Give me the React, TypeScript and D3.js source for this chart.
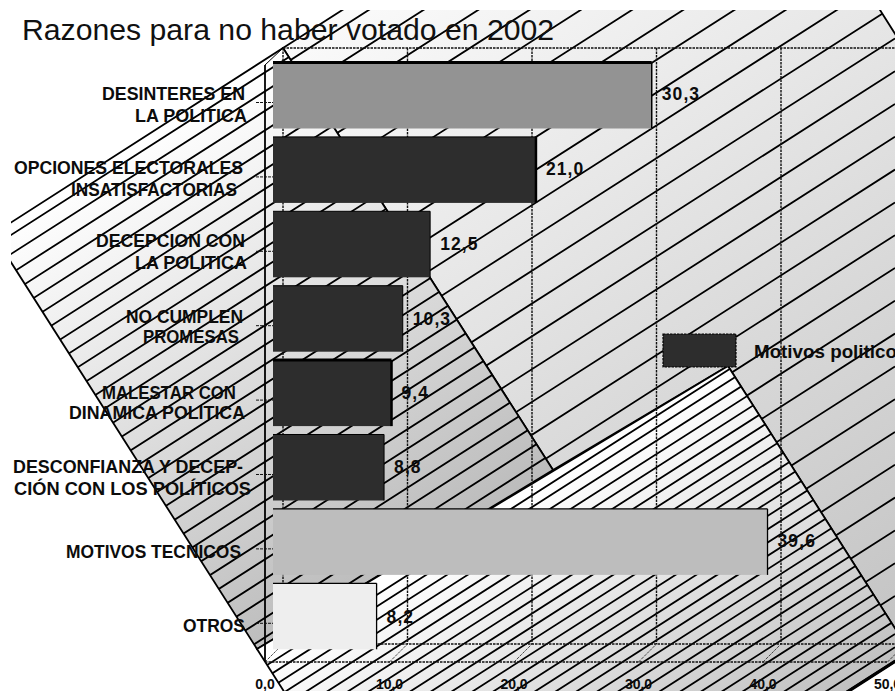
import React from "react";
import * as d3 from "d3";

type Pt = [number, number];

const titleText = "Razones para no haber votado en 2002";
const categories = [
  ["DESINTERES EN", "LA POLITICA"],
  ["OPCIONES ELECTORALES", "INSATISFACTORIAS"],
  ["DECEPCION CON", "LA POLITICA"],
  ["NO CUMPLEN", "PROMESAS"],
  ["MALESTAR CON", "DINAMICA POLITICA"],
  ["DESCONFIANZA Y DECEP-", "CIÓN CON LOS POLÍTICOS"],
  ["MOTIVOS TECNICOS"],
  ["OTROS"],
];
const values = [30.3, 21.0, 12.5, 10.3, 9.4, 8.8, 39.6, 8.2];
const valueLabels = ["30,3", "21,0", "12,5", "10,3", "9,4", "8,8", "39,6", "8,2"];
const barFills = ["#939393", "#2d2d2d", "#2d2d2d", "#2d2d2d", "#2d2d2d", "#2d2d2d", "#bdbdbd", "#eeeeee"];
const xTicks = [0, 10, 20, 30, 40, 50];
const legendLabel = "Motivos politicos";

const W = 895;
const H = 691;
const FONT = "'Liberation Sans', Arial, sans-serif";
const INK = "#0c0c0c";

// Oblique projection of the 3D axis box
const depth = 18;
const floorY = 662;
const backTop = 48;
const backBottom = 644;
const x = d3.scaleLinear().domain([0, 50]).range([265, 887.5]);
const y = d3
  .scaleBand<number>()
  .domain(d3.range(categories.length))
  .range([58.8, 653])
  .paddingInner(0.113)
  .paddingOuter(0.05);
const barStart = 273;
const barShift = 9.5;
const tickDrop = 7;

// Corners of the three tilted backdrop panels
const tilt = -0.64;
const topLeft: Pt = [-7, 234];
const topMid: Pt = [283, 48];
const topRight: Pt = [725, -235];
const farRight: Pt = [1178, 481];
const seam: Pt = [553, 470];
const apex: Pt = [728, 366];
const floorCorner: Pt = [257, 649];
const lowRight: Pt = [910, 652];
const lowLeft: Pt = [447, 948];

const panelLeft = [topLeft, topMid, seam, floorCorner];
const panelRight = [topMid, topRight, farRight, lowRight, apex, seam];
const panelBottom = [floorCorner, apex, lowRight, lowLeft];

const pts = (p: Pt[]) => p.map((q) => q.join(",")).join(" ");

// Hatch rules run parallel to the panels' long edges; each is given by where it crosses x = 0
const ruleLine = d3.line<Pt>();
const rules = (cs: number[]) =>
  cs
    .map((c) =>
      ruleLine([
        [0, c],
        [W, c + W * tilt],
      ])
    )
    .join("");
const hatchLeft = rules([242, ...d3.range(261, 1000, 19.5)]);
const hatchRight = rules([246, 281, ...d3.range(316, 1300, 32.8)]);
const hatchBottom = rules([836, ...d3.range(847.6, 1235, 13.3)]);

function Panel({ id, points, fill, lines }: { id: string; points: Pt[]; fill: string; lines: string }) {
  return (
    <g>
      <clipPath id={id}>
        <polygon points={pts(points)} />
      </clipPath>
      <polygon points={pts(points)} fill={fill} />
      <path d={lines} clipPath={`url(#${id})`} fill="none" stroke="#000" strokeWidth={1.8} />
      <polygon points={pts(points)} fill="none" stroke="#000" strokeWidth={1.8} />
    </g>
  );
}

const ramp = (id: string, p0: Pt, p1: Pt, from: string, to: string) => (
  <linearGradient id={id} gradientUnits="userSpaceOnUse" x1={p0[0]} y1={p0[1]} x2={p1[0]} y2={p1[1]}>
    <stop offset="0" stopColor={from} />
    <stop offset="1" stopColor={to} />
  </linearGradient>
);

// Right edge, fitted length and baseline (relative to the category tick) of each label line
const labelEnds = [[245, 247], [243, 237], [245, 247], [243, 239], [236, 245], [243, 251], [241], [245]];
const labelWidths = [[143, 112], [229, 166], [149, 112], [117, 96], [134, 176], [230, 237], [175], [62]];
const labelDrops = [[-2.5, 19.5], [-3, 19], [-4.3, 17.7], [-2.7, 17.3], [-1, 19], [-1.5, 20.5], [9], [8.7]];
const valueDrops = [4.5, 5, 5.7, 6.3, 5.9, 5.5, 5, 6.7];
const edgeTop = [3, 1, 1, 1, 3, 1, 1.3, 1.3];
const edgeRight = [1.5, 2.5, 1, 1, 2.5, 1, 1.3, 1.3];

export default function App() {
  const gridXs = xTicks.map((t) => x(t) + depth);
  return (
    <svg width={W} height={H} style={{ position: "absolute", left: 0, top: 0, background: "#fff" }} fontFamily={FONT}>
      <defs>
        {ramp("gLeft", topLeft, [262, 656], "#ffffff", "#bcbcbc")}
        {ramp("gRight", topMid, [739, 765], "#fafafa", "#c2c2c2")}
        {ramp("gBottom", apex, lowRight, "#ffffff", "#c0c0c0")}
        <clipPath id="stage">
          <rect x={11} y={10} width={W - 11} height={H - 10} />
        </clipPath>
      </defs>

      <g clipPath="url(#stage)">
        <Panel id="pRight" points={panelRight} fill="url(#gRight)" lines={hatchRight} />
        <Panel id="pLeft" points={panelLeft} fill="url(#gLeft)" lines={hatchLeft} />
        <Panel id="pBottom" points={panelBottom} fill="url(#gBottom)" lines={hatchBottom} />
        <line x1={lowRight[0]} y1={lowRight[1]} x2={lowLeft[0]} y2={lowLeft[1]} stroke="#000" strokeWidth={3} />
      </g>

      {/* Back wall and floor of the axis box */}
      <g stroke="#111" strokeWidth={1.4} strokeDasharray="2.5 1" fill="none">
        <line x1={gridXs[0]} y1={backTop} x2={W} y2={backTop} />
        <line x1={gridXs[0]} y1={backBottom} x2={W} y2={backBottom} />
        <line x1={x(0)} y1={floorY} x2={x(50)} y2={floorY} />
        {gridXs.map((g) => (
          <line key={g} x1={g} y1={backTop} x2={g} y2={backBottom} />
        ))}
      </g>
      <g stroke="#222" strokeWidth={0.8} strokeDasharray="3 1">
        {xTicks.map((t) => (
          <line key={t} x1={x(t)} y1={floorY} x2={x(t) + depth} y2={floorY - depth} />
        ))}
      </g>
      <line x1={265} y1={65} x2={265} y2={floorY} stroke="#000" strokeWidth={1.8} />
      <line x1={265} y1={65} x2={283} y2={backTop} stroke="#000" strokeWidth={1} />

      {/* Category ticks and labels */}
      {categories.map((lines, i) => {
        const tickY = y(i)! + y.bandwidth() / 2 + tickDrop;
        return (
          <g key={i}>
            <line x1={256} x2={276} y1={tickY} y2={tickY} stroke="#111" strokeWidth={1} strokeDasharray="3 1" />
            {lines.map((line, j) => (
              <text
                key={j}
                x={labelEnds[i][j]}
                y={tickY + labelDrops[i][j]}
                textAnchor="end"
                fontSize={17.5}
                fontWeight="bold"
                fill={INK}
                textLength={labelWidths[i][j]}
                lengthAdjust="spacingAndGlyphs"
              >
                {line}
              </text>
            ))}
          </g>
        );
      })}

      {/* Bars */}
      {values.map((v, i) => {
        const top = y(i)!;
        const h = y.bandwidth();
        const end = x(v) + barShift;
        return (
          <g key={i}>
            <rect x={barStart} y={top} width={end - barStart} height={h} fill={barFills[i]} />
            <line x1={barStart} x2={end} y1={top} y2={top} stroke="#000" strokeWidth={edgeTop[i]} />
            <line x1={end} x2={end} y1={top} y2={top + h} stroke="#000" strokeWidth={edgeRight[i]} />
            <text x={end + 10} y={top + h / 2 + valueDrops[i]} fontSize={17.5} letterSpacing={1.1} fontWeight="bold" fill={INK}>
              {valueLabels[i]}
            </text>
          </g>
        );
      })}

      {/* Value axis labels */}
      {xTicks.map((t) => (
        <text key={t} x={x(t)} y={689} textAnchor="middle" fontSize={14} fontWeight="bold" fill={INK}>
          {d3.format(".1f")(t).replace(".", ",")}
        </text>
      ))}

      {/* Legend */}
      <rect x={663} y={334} width={73} height={33} fill="#2d2d2d" stroke="#000" strokeWidth={1.2} strokeDasharray="2.5 1" />
      <text x={754} y={358} fontSize={18.8} fontWeight="bold" fill={INK}>
        {legendLabel}
      </text>

      <text x={22} y={40} fontSize={30.2} fill="#111">
        {titleText}
      </text>
    </svg>
  );
}
